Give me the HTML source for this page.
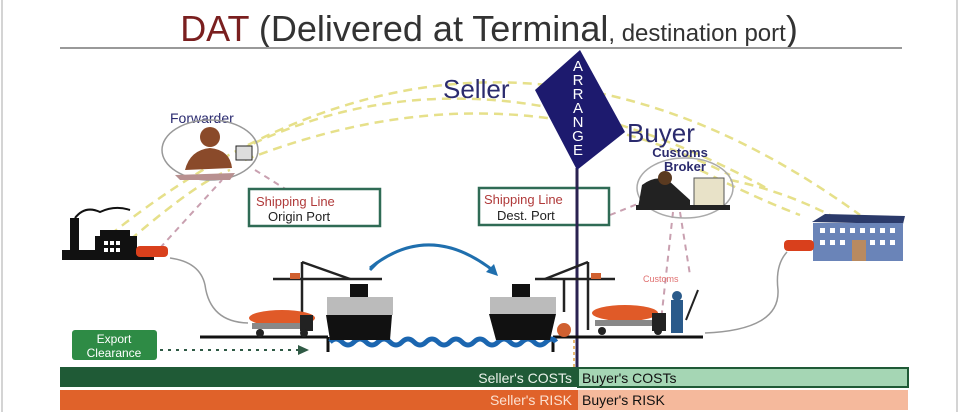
<!DOCTYPE html>
<html><head><meta charset="utf-8"><style>
html,body{margin:0;padding:0;background:#fff;}
svg{display:block;font-family:"Liberation Sans",Arial,sans-serif;}
</style></head><body>
<svg width="960" height="412" viewBox="0 0 960 412" xmlns="http://www.w3.org/2000/svg">
<rect x="0" y="0" width="960" height="412" fill="#fff"/>
<line x1="2" y1="0" x2="2" y2="412" stroke="#aaa" stroke-width="1"/>
<line x1="957" y1="0" x2="957" y2="412" stroke="#aaa" stroke-width="1"/>
<!-- title -->
<text x="489" y="41" text-anchor="middle" font-size="36" fill="#333"><tspan fill="#7a1f1f">DAT</tspan> (Delivered at Terminal<tspan font-size="24">, destination port</tspan>)</text>
<line x1="60" y1="48" x2="902" y2="48" stroke="#999" stroke-width="2"/>
<!-- yellow dashed arcs -->
<g fill="none" stroke="#e6e08a" stroke-width="2.5" stroke-dasharray="9,6">
<path d="M110 235 Q480 -60 860 215"/>
<path d="M240 150 Q480 30 770 190"/>
<path d="M245 160 Q500 60 730 175"/>
<path d="M130 240 Q200 180 230 170"/>
<path d="M730 180 Q780 190 830 215"/>
<path d="M700 170 Q760 200 800 215"/>
</g>
<!-- pink dashed -->
<g fill="none" stroke="#c9a0b0" stroke-width="2" stroke-dasharray="6,5">
<path d="M160 248 L222 180"/>
<path d="M255 170 L295 195"/>
<path d="M610 215 L660 195"/>
<path d="M673 212 L660 330"/>
<path d="M680 212 L690 275"/>
</g>
<text x="643" y="282" font-size="9" fill="#e07070">Customs</text>
<!-- forwarder -->
<text x="170" y="123" font-size="14" fill="#2b2b70">Forwarder</text>
<ellipse cx="210" cy="150" rx="48" ry="30" fill="none" stroke="#999" stroke-width="1.5"/>
<circle cx="210" cy="137" r="10" fill="#8a4a2a"/>
<path d="M185 170 Q190 150 210 148 Q230 150 232 168 Z" fill="#8a4a2a"/>
<path d="M175 175 L235 173 L230 180 L180 180 Z" fill="#b89090"/>
<rect x="236" y="146" width="16" height="14" fill="#ddd" stroke="#222"/>
<!-- factory -->
<g fill="#111">
<rect x="70" y="218" width="9" height="40"/>
<rect x="62" y="250" width="92" height="10"/>
<rect x="95" y="236" width="42" height="22"/>
<rect x="100" y="230" width="30" height="8"/>
</g>
<path d="M75 218 Q85 205 100 212 Q115 205 130 210" stroke="#111" fill="none" stroke-width="2"/>
<g fill="#fff"><rect x="104" y="241" width="4" height="4"/><rect x="110" y="241" width="4" height="4"/><rect x="116" y="241" width="4" height="4"/><rect x="104" y="248" width="4" height="4"/><rect x="110" y="248" width="4" height="4"/><rect x="116" y="248" width="4" height="4"/></g>
<rect x="136" y="246" width="32" height="11" rx="4" fill="#d9401c"/>
<path d="M170 258 Q200 262 205 285 Q210 322 248 323" fill="none" stroke="#999" stroke-width="1.5"/>
<!-- shipping line boxes -->
<rect x="249" y="189" width="131" height="37" fill="#fff" stroke="#2f6b55" stroke-width="2.5"/>
<text x="256" y="206" font-size="13" fill="#b03a3a">Shipping Line</text>
<text x="268" y="221" font-size="13" fill="#222">Origin Port</text>
<rect x="479" y="188" width="130" height="37" fill="#fff" stroke="#2f6b55" stroke-width="2.5"/>
<text x="484" y="204" font-size="13" fill="#b03a3a">Shipping Line</text>
<text x="497" y="220" font-size="13" fill="#222">Dest. Port</text>
<!-- diamond -->
<line x1="577" y1="168" x2="577" y2="375" stroke="#2a2250" stroke-width="3"/>
<line x1="574" y1="340" x2="574" y2="370" stroke="#e0a040" stroke-width="1.5" stroke-dasharray="3,3"/>
<polygon points="580,50 535,90 577,170 625,132" fill="#1d1a6e"/>
<g font-size="15" fill="#fff" text-anchor="middle">
<text x="578" y="71">A</text><text x="578" y="85">R</text><text x="578" y="99">R</text><text x="578" y="113">A</text><text x="578" y="127">N</text><text x="578" y="141">G</text><text x="578" y="155">E</text>
</g>
<text x="443" y="98" font-size="26" fill="#2b2b6e">Seller</text>
<text x="627" y="142" font-size="26" fill="#2b2b6e">Buyer</text>
<text x="680" y="157" font-size="13" fill="#2b2b6e" text-anchor="middle" font-weight="bold">Customs</text>
<text x="685" y="171" font-size="13" fill="#2b2b6e" text-anchor="middle" font-weight="bold">Broker</text>
<!-- customs broker -->
<ellipse cx="685" cy="188" rx="48" ry="30" fill="none" stroke="#aaa" stroke-width="1.5"/>
<path d="M638 208 L642 185 Q655 175 668 180 L690 200 L690 208 Z" fill="#222"/>
<circle cx="665" cy="178" r="7" fill="#5a3a20"/>
<rect x="694" y="178" width="30" height="28" fill="#e8e2c8" stroke="#555"/>
<rect x="636" y="205" width="94" height="5" fill="#222"/>
<!-- warehouse -->
<polygon points="812,222 825,214 905,216 903,224" fill="#2b3a6a"/>
<rect x="813" y="223" width="90" height="38" fill="#6a84b8"/>
<g fill="#fff">
<rect x="820" y="228" width="5" height="5"/><rect x="830" y="228" width="5" height="5"/><rect x="840" y="228" width="5" height="5"/><rect x="850" y="228" width="5" height="5"/><rect x="860" y="228" width="5" height="5"/><rect x="870" y="228" width="5" height="5"/><rect x="880" y="228" width="5" height="5"/><rect x="890" y="228" width="5" height="5"/>
<rect x="820" y="240" width="5" height="5"/><rect x="830" y="240" width="5" height="5"/><rect x="840" y="240" width="5" height="5"/><rect x="870" y="240" width="5" height="5"/><rect x="880" y="240" width="5" height="5"/><rect x="890" y="240" width="5" height="5"/>
</g>
<rect x="852" y="240" width="14" height="21" fill="#b88a60"/>
<rect x="784" y="240" width="30" height="11" rx="4" fill="#d9401c"/>
<path d="M787 252 Q775 265 778 290 Q780 330 705 333" fill="none" stroke="#999" stroke-width="1.5"/>
<!-- ground and water -->
<line x1="200" y1="337" x2="328" y2="337" stroke="#111" stroke-width="3"/>
<line x1="328" y1="337" x2="328" y2="352" stroke="#111" stroke-width="3"/>
<line x1="553" y1="337" x2="703" y2="337" stroke="#111" stroke-width="3"/>
<line x1="553" y1="337" x2="553" y2="352" stroke="#111" stroke-width="3"/>
<path d="M330 342 q6 -6 12 0 t12 0 t12 0 t12 0 t12 0 t12 0 t12 0 t12 0 t12 0 t12 0 t12 0 t12 0 t12 0 t12 0 t12 0 t12 0 t12 0 t12 0 t10 0" fill="none" stroke="#1b66b0" stroke-width="5"/>
<!-- cranes -->
<g stroke="#222" stroke-width="2.5" fill="none">
<line x1="273" y1="279" x2="382" y2="279"/><line x1="302" y1="262" x2="302" y2="330"/><line x1="302" y1="262" x2="350" y2="279"/>
<line x1="535" y1="279" x2="615" y2="279"/><line x1="588" y1="262" x2="588" y2="330"/><line x1="588" y1="262" x2="545" y2="279"/>
<line x1="564" y1="279" x2="564" y2="312"/>
</g>
<rect x="290" y="273" width="10" height="6" fill="#d06030"/>
<rect x="591" y="273" width="10" height="6" fill="#d06030"/>
<!-- ships -->
<rect x="327" y="297" width="66" height="18" fill="#bbb"/>
<rect x="350" y="284" width="18" height="13" fill="#111"/>
<path d="M326 315 L392 315 L390 340 L330 340 Z" fill="#111"/>
<rect x="490" y="297" width="66" height="17" fill="#bbb"/>
<rect x="512" y="284" width="18" height="13" fill="#111"/>
<path d="M489 314 L556 314 L550 340 L496 340 Z" fill="#111"/>
<circle cx="564" cy="330" r="7" fill="#d06030"/>
<!-- arc arrow -->
<path d="M370 268 Q430 220 495 272" fill="none" stroke="#1f6fae" stroke-width="3"/>
<polygon points="498,276 486,272 494,264" fill="#1f6fae"/>
<path d="M370 270 l8 -8" stroke="#1f6fae" stroke-width="3"/>
<!-- trucks -->
<ellipse cx="282" cy="318" rx="33" ry="8" fill="#e05a28"/>
<rect x="252" y="323" width="52" height="6" fill="#888"/>
<rect x="300" y="315" width="13" height="16" fill="#222"/>
<circle cx="260" cy="333" r="4" fill="#222"/><circle cx="304" cy="333" r="4" fill="#222"/>
<ellipse cx="625" cy="313" rx="33" ry="8" fill="#e05a28"/>
<rect x="595" y="320" width="60" height="6" fill="#888"/>
<rect x="652" y="313" width="14" height="18" fill="#222"/>
<circle cx="602" cy="331" r="4" fill="#222"/><circle cx="658" cy="331" r="4" fill="#222"/>
<rect x="671" y="300" width="12" height="33" fill="#2a5a8a"/>
<circle cx="677" cy="296" r="5" fill="#2a5a8a"/>
<line x1="686" y1="320" x2="698" y2="290" stroke="#222" stroke-width="2"/>
<!-- export clearance -->
<rect x="72" y="330" width="85" height="30" rx="3" fill="#2e8b45"/>
<text x="114" y="343" font-size="12" fill="#fff" text-anchor="middle">Export</text>
<text x="114" y="357" font-size="12" fill="#fff" text-anchor="middle">Clearance</text>
<line x1="160" y1="350" x2="300" y2="350" stroke="#2f5a45" stroke-width="2" stroke-dasharray="3,5"/>
<polygon points="298,345 309,350 298,355" fill="#2f5a45"/>
<!-- bars -->
<rect x="60" y="367" width="518" height="20" fill="#1f5a36"/>
<rect x="578" y="368" width="330" height="19" fill="#a5d6b4" stroke="#1f5a36" stroke-width="2"/>
<text x="572" y="383" font-size="14" fill="#e8f0e8" text-anchor="end">Seller's COSTs</text>
<text x="582" y="383" font-size="14" fill="#111">Buyer's COSTs</text>
<rect x="60" y="390" width="518" height="20" fill="#e0622a"/>
<rect x="578" y="390" width="330" height="20" fill="#f5b99c"/>
<text x="572" y="405" font-size="14" fill="#fbe0d0" text-anchor="end">Seller's RISK</text>
<text x="582" y="405" font-size="14" fill="#111">Buyer's RISK</text>
</svg>
</body></html>
